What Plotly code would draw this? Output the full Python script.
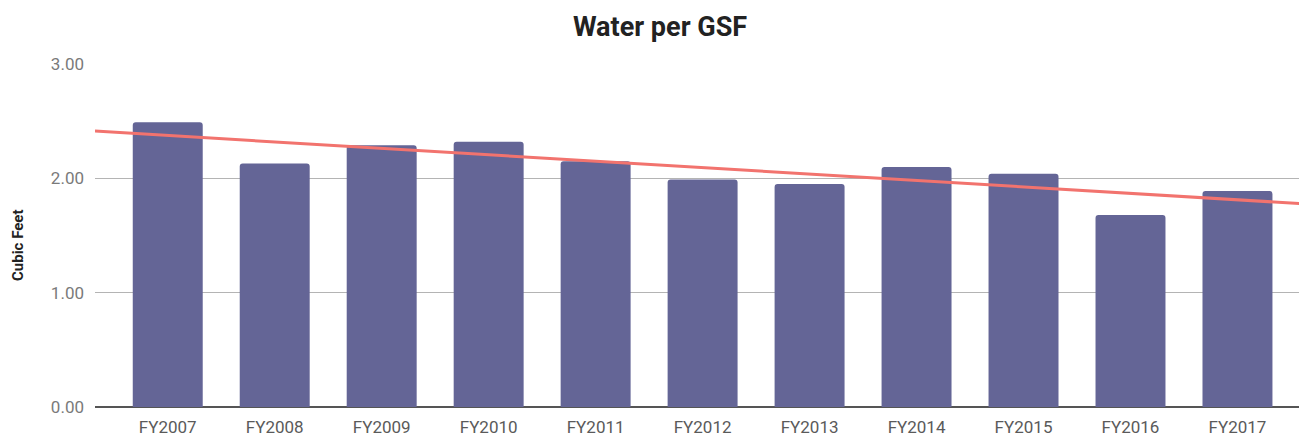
import numpy as np
import plotly.graph_objects as go

categories = ["FY2007", "FY2008", "FY2009", "FY2010", "FY2011", "FY2012",
              "FY2013", "FY2014", "FY2015", "FY2016", "FY2017"]
water_per_gsf = [2.49, 2.13, 2.29, 2.32, 2.15, 1.99, 1.95, 2.10, 2.04, 1.68, 1.89]
y_ticks = [0, 1, 2, 3]
y_tick_labels = ["0.00", "1.00", "2.00", "3.00"]

# page body has an 8px default margin; compensate so the figure fills the window
OFF = 8
W, H = 1307 - OFF, 437 - OFF
ml, mr, mt, mb = 95 - OFF, 0, 64 - OFF, 30
x_range = [-0.68, 10.65]

idx = np.arange(len(categories))
slope, intercept = np.polyfit(idx, water_per_gsf, 1)
trend_x = np.array(x_range)
trend_y = slope * trend_x + intercept

fig = go.Figure()
fig.add_trace(go.Bar(
    x=idx, y=water_per_gsf, width=0.654,
    marker=dict(color="#646596", line=dict(width=0), cornerradius=3),
    hoverinfo="y", showlegend=False,
))
fig.add_trace(go.Scatter(
    x=trend_x, y=trend_y, mode="lines",
    line=dict(color="#f2736e", width=3),
    showlegend=False, hoverinfo="skip",
))

fig.update_layout(
    width=W, height=H,
    margin=dict(l=ml, r=mr, t=mt, b=mb),
    paper_bgcolor="white", plot_bgcolor="white",
    font=dict(family="Roboto, Arial, sans-serif"),
    title=dict(text="<b>Water per GSF</b>", x=(660 - OFF) / W, xref="container", xanchor="center",
               y=1 - (27 - OFF) / H, yref="container", yanchor="middle",
               font=dict(size=27, color="#222222", family="Roboto, Arial, sans-serif")),
    xaxis=dict(range=x_range, tickmode="array", tickvals=idx, ticktext=categories,
               showgrid=False, zeroline=False, showline=False, ticks="",
               ticklabelstandoff=8,
               tickfont=dict(size=17, color="#5a5a5a"), fixedrange=True),
    yaxis=dict(range=[0, 3.0], tickmode="array", tickvals=y_ticks, ticktext=y_tick_labels,
               showgrid=True, gridcolor="#b4b4b4", gridwidth=1,
               zeroline=True, zerolinecolor="#555555", zerolinewidth=1.5,
               showline=False, ticks="", ticklabelstandoff=10,
               tickfont=dict(size=17, color="#7a7a7a"), fixedrange=True),
    annotations=[dict(text="<b>Cubic Feet</b>", textangle=-90,
                      x=(18 - 95) / (W - ml - mr), xref="paper",
                      y=1 - (245 - 64) / (H - mt - mb), yref="paper",
                      showarrow=False, font=dict(size=15, color="#222222"),
                      xanchor="center", yanchor="middle")],
)

fig.write_html("out.html")
